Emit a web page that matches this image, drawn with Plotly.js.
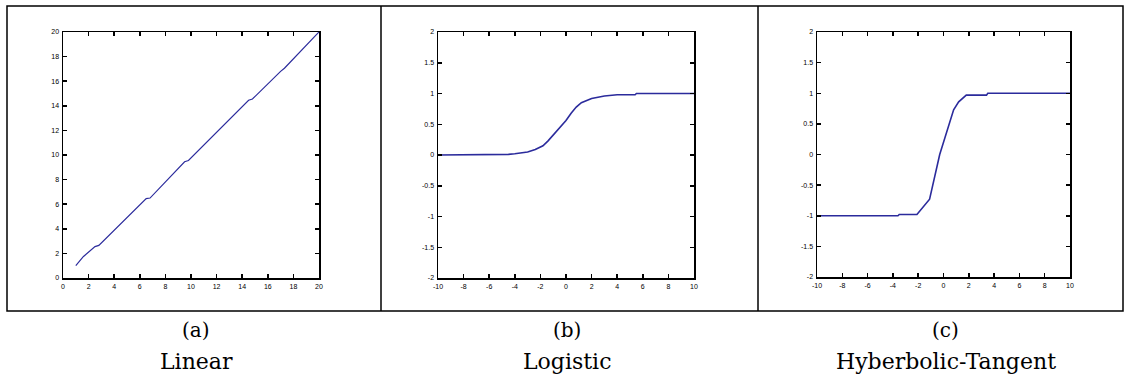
<!DOCTYPE html>
<html><head><meta charset="utf-8">
<script src="https://cdn.plot.ly/plotly-3.0.1.min.js"></script>
<style>html,body{margin:0;padding:0;background:#fff}#chart{width:1130px;height:378px}</style>
</head><body><div id="chart"></div>
<script>
// Panel (a) Linear
const linX = [1, 1.4, 1.6, 2.5, 2.8, 6.5, 6.8, 9.5, 9.8, 14.5, 14.8, 17, 17.3, 20];
const linY = [1, 1.45, 1.75, 2.55, 2.65, 6.45, 6.5, 9.45, 9.55, 14.45, 14.55, 16.8, 17.05, 20];
// Panel (b) Logistic
const logX = [-10, -4.6, -4.5, -4, -3, -2.4, -1.8, -1.4, -1, -0.5, 0, 0.4, 0.8, 1.2, 2, 3, 4, 5.4, 5.5, 10];
const logY = [0, 0, 0.01, 0.02, 0.05, 0.09, 0.15, 0.23, 0.32, 0.44, 0.56, 0.68, 0.78, 0.85, 0.92, 0.96, 0.98, 0.98, 1, 1];
// Panel (c) Hyperbolic tangent
const tanX = [-10, -3.6, -3.5, -2.1, -1.1, -0.3, 0.8, 1.2, 1.8, 3.4, 3.5, 10];
const tanY = [-1, -1, -0.98, -0.98, -0.73, 0, 0.73, 0.86, 0.97, 0.97, 1, 1];

const ticksA = [0,2,4,6,8,10,12,14,16,18,20];
const ticksBx = [-10,-8,-6,-4,-2,0,2,4,6,8,10];
const ticksBy = [-2,-1.5,-1,-0.5,0,0.5,1,1.5,2];
const captionLetters = ['(a)','(b)','(c)'];
const captionNames = ['Linear','Logistic','Hyberbolic-Tangent'];

const W = 1130, H = 378;
const lineColor = '#2b2b9c';
function px(v){return v/W;}
function py(v){return 1 - v/H;}

function axis(domain, range, tickvals, anchor){
  return {
    domain: domain, range: range, tickvals: tickvals, ticktext: tickvals.map(String),
    ticks: 'inside', ticklen: 4, tickwidth: 1.5, tickcolor: '#000',
    showline: true, linecolor: '#000', linewidth: 1.5, mirror: 'ticks',
    showgrid: false, zeroline: false, anchor: anchor, automargin: false,
    tickfont: {family: 'Arial', size: 7, color: '#000'}, ticklabelstandoff: 1, fixedrange: true
  };
}

const data = [
  {x: linX, y: linY, xaxis: 'x', yaxis: 'y', mode: 'lines', line: {color: lineColor, width: 1.2}},
  {x: logX, y: logY, xaxis: 'x2', yaxis: 'y2', mode: 'lines', line: {color: lineColor, width: 1.6}},
  {x: tanX, y: tanY, xaxis: 'x3', yaxis: 'y3', mode: 'lines', line: {color: lineColor, width: 1.6}}
];

const layout = {
  width: W, height: H, margin: {l:0, r:0, t:0, b:0},
  paper_bgcolor: '#fff', plot_bgcolor: '#fff', showlegend: false,
  xaxis: axis([px(63), px(319)], [0, 20], ticksA, 'y'),
  yaxis: axis([py(278), py(32)], [0, 20], ticksA, 'x'),
  xaxis2: axis([px(438), px(694)], [-10, 10], ticksBx, 'y2'),
  yaxis2: axis([py(278), py(32)], [-2, 2], ticksBy, 'x2'),
  xaxis3: axis([px(817), px(1070)], [-10, 10], ticksBx, 'y3'),
  yaxis3: axis([py(277), py(32)], [-2, 2], ticksBy, 'x3'),
  shapes: [
    {type:'rect', xref:'paper', yref:'paper', x0: px(7), x1: px(1123), y0: py(311), y1: py(6), line:{color:'#000', width:1.5}},
    {type:'line', xref:'paper', yref:'paper', x0: px(381), x1: px(381), y0: py(311), y1: py(6), line:{color:'#000', width:1.5}},
    {type:'line', xref:'paper', yref:'paper', x0: px(758), x1: px(758), y0: py(311), y1: py(6), line:{color:'#000', width:1.5}}
  ],
  annotations: []
};
const centers = [196, 567, 946];
for (let i = 0; i < 3; i++) {
  layout.annotations.push({xref:'paper', yref:'paper', x: px(centers[i]), y: py(330), text: captionLetters[i], showarrow:false, xanchor:'center', yanchor:'middle', font:{family:'DejaVu Serif', size:20, color:'#000'}});
  layout.annotations.push({xref:'paper', yref:'paper', x: px(centers[i]), y: py(361), text: captionNames[i], showarrow:false, xanchor:'center', yanchor:'middle', font:{family:'DejaVu Serif', size:22, color:'#000'}});
}
Plotly.newPlot('chart', data, layout, {displayModeBar:false, staticPlot:true});
</script></body></html>
